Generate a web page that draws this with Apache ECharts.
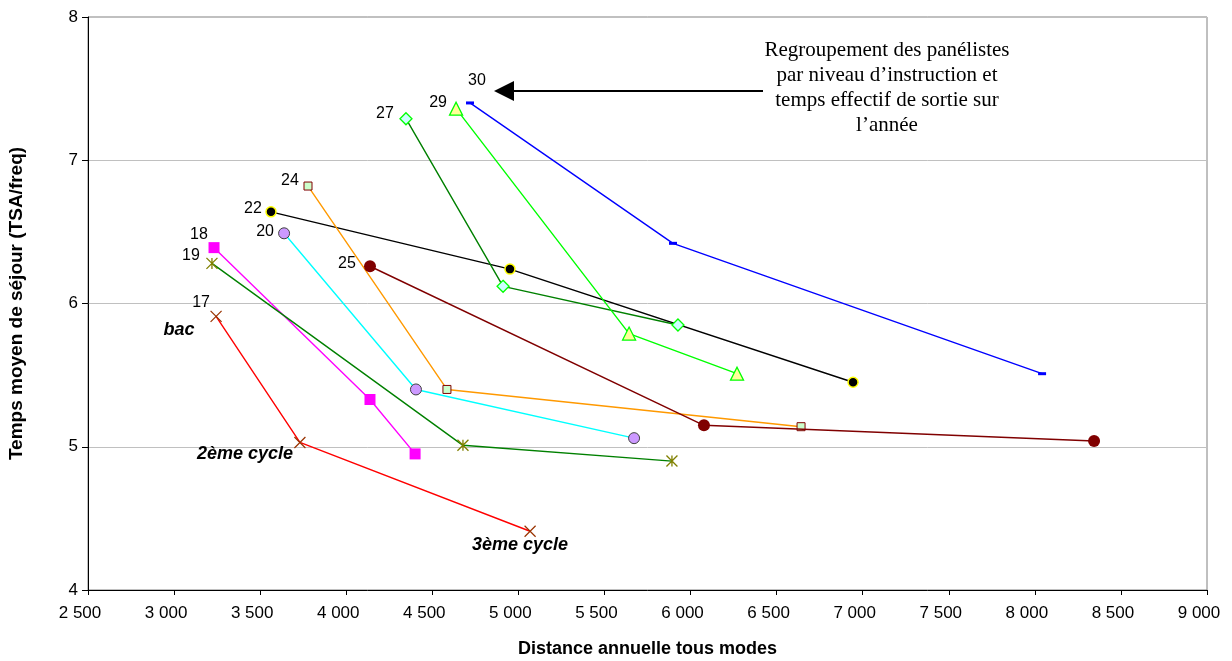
<!DOCTYPE html>
<html><head><meta charset="utf-8">
<script src="https://cdn.jsdelivr.net/npm/echarts@6/dist/echarts.min.js"></script>
<style>html,body{margin:0;padding:0;background:#fff}#c{width:1232px;height:661px}</style>
</head><body><div id="c"></div>
<script>
// Distance annuelle tous modes (x) and Temps moyen de séjour (y) per group
const dist17 = [3244, 3731, 5068], time17 = [5.91, 5.03, 4.41];
const dist18 = [3232, 4138, 4400], time18 = [6.39, 5.33, 4.95];
const dist19 = [3220, 4678, 5892], time19 = [6.28, 5.01, 4.90];
const dist20 = [3639, 4405, 5672], time20 = [6.49, 5.40, 5.06];
const dist22 = [3563, 4951, 6944], time22 = [6.64, 6.24, 5.45];
const dist24 = [3778, 4585, 6642], time24 = [6.82, 5.40, 5.14];
const dist25 = [4138, 6078, 8344], time25 = [6.26, 5.15, 5.04];
const dist27 = [4347, 4911, 5927], time27 = [7.29, 6.12, 5.85];
const dist29 = [4638, 5643, 6270], time29 = [7.36, 5.79, 5.51];
const dist30 = [4719, 5898, 8042], time30 = [7.40, 6.42, 5.51];
const groupNames = ['17','18','19','20','22','24','25','27','29','30'];
const levelLabels = ['bac', '2ème cycle', '3ème cycle'];
const xTicks = {min: 2500, max: 9000, step: 500};
const yTicks = {min: 4, max: 8, step: 1};
const noteLines = ['Regroupement des panélistes', 'par niveau d’instruction et', 'temps effectif de sortie sur', 'l’année'];

const dists = [dist17, dist18, dist19, dist20, dist22, dist24, dist25, dist27, dist29, dist30];
const times = [time17, time18, time19, time20, time22, time24, time25, time27, time29, time30];

const X = 'path://M0,0L10,10M10,0L0,10';
const STAR = 'path://M5,0L5,10M0,0L10,10M10,0L0,10';
const styles = [
  {line:'#FF0000', sym:X, size:11, fill:'#993300', border:'#993300', bw:1.2, lo:[-15,-14]},
  {line:'#FF00FF', sym:'rect', size:11, fill:'#FF00FF', border:'#FF00FF', bw:0, lo:[-15,-13]},
  {line:'#008000', sym:STAR, size:11, fill:'#808000', border:'#808000', bw:1.3, lo:[-21,-8]},
  {line:'#00FFFF', sym:'circle', size:11, fill:'#CC99FF', border:'#404040', bw:1, lo:[-19,-2]},
  {line:'#000000', sym:'circle', size:10, fill:'#000000', border:'#FFFF00', bw:1.5, lo:[-18,-3]},
  {line:'#FF9900', sym:'rect', size:8, fill:'#CCFFCC', border:'#800000', bw:1, lo:[-18,-5]},
  {line:'#800000', sym:'circle', size:12, fill:'#800000', border:'#800000', bw:0, lo:[-23,-3]},
  {line:'#008000', sym:'diamond', size:12, fill:'#CCFFFF', border:'#00FF00', bw:1.3, lo:[-21,-5]},
  {line:'#00FF00', sym:'triangle', size:13, fill:'#FFFF99', border:'#00FF00', bw:1.3, lo:[-18,-6]},
  {line:'#0000FF', sym:'rect', size:[8,3], fill:'#0000FF', border:'#0000FF', bw:0, lo:[7,-22]}
];

const series = dists.map((d, k) => {
  const s = styles[k];
  return {
    type: 'line', name: groupNames[k], symbol: s.sym, symbolSize: s.size,
    lineStyle: {color: s.line, width: 1.4},
    itemStyle: {color: s.fill, borderColor: s.border, borderWidth: s.bw},
    emphasis: {disabled: true}, animation: false, z: 2 + k,
    data: d.map((v, i) => ({
      value: [v, times[k][i]],
      label: i === 0 ? {show: true, position: 'inside', formatter: groupNames[k], offset: s.lo,
        align: 'center', verticalAlign: 'middle', color: '#000', fontSize: 16, fontFamily: 'Liberation Sans'} : {show: false}
    }))
  };
});
const levelOffsets = [[-37, 14], [-55, 12], [-10, 14]];
series.push({
  type: 'scatter', symbolSize: 0, animation: false, z: 20, silent: true,
  itemStyle: {opacity: 1},
  data: dist17.map((v, i) => ({
    value: [v, time17[i]],
    label: {show: true, position: 'inside', formatter: levelLabels[i], offset: levelOffsets[i],
      align: 'center', verticalAlign: 'middle', color: '#000', opacity: 1, fontSize: 18,
      fontWeight: 'bold', fontStyle: 'italic', fontFamily: 'Liberation Sans'}
  }))
});

const chart = echarts.init(document.getElementById('c'), null, {renderer: 'canvas'});
const fmt = v => String(v).replace(/\B(?=(\d{3})+(?!\d))/g, ' ');
chart.setOption({
  backgroundColor: '#fff',
  animation: false,
  grid: {left: 88, right: 25, top: 17, bottom: 71, show: true, borderColor: '#808080', borderWidth: 1,
    containLabel: false, outerBoundsMode: 'none'},
  xAxis: {
    type: 'value', min: xTicks.min, max: xTicks.max, interval: xTicks.step,
    name: 'Distance annuelle tous modes', nameLocation: 'middle', nameGap: 50,
    nameTextStyle: {fontFamily: 'Liberation Sans', fontWeight: 'bold', fontSize: 18, color: '#000'},
    axisLine: {lineStyle: {color: '#000', width: 1}},
    axisTick: {show: true, inside: false, length: 5, lineStyle: {color: '#000'}},
    axisLabel: {formatter: fmt, fontFamily: 'Liberation Sans', fontSize: 17, color: '#000', margin: 15, padding: [0, 16, 0, 0]},
    splitLine: {show: false}
  },
  yAxis: {
    type: 'value', min: yTicks.min, max: yTicks.max, interval: yTicks.step,
    name: 'Temps moyen de séjour (TSA/freq)', nameLocation: 'middle', nameGap: 62,
    nameTextStyle: {fontFamily: 'Liberation Sans', fontWeight: 'bold', fontSize: 19, color: '#000'},
    axisLine: {show: true, lineStyle: {color: '#000', width: 1}},
    axisTick: {show: true, inside: false, length: 6, lineStyle: {color: '#000'}},
    axisLabel: {fontFamily: 'Liberation Sans', fontSize: 17, color: '#000', margin: 10},
    splitLine: {show: true, lineStyle: {color: '#C0C0C0', width: 1}}
  },
  series: series,
  graphic: [
    {type: 'line', shape: {x1: 763, y1: 91, x2: 512, y2: 91}, style: {stroke: '#000', lineWidth: 2}, z: 50},
    {type: 'polygon', shape: {points: [[494, 91], [514, 81], [514, 101]]}, style: {fill: '#000'}, z: 50},
    {type: 'text', x: 887, y: 38, z: 50, style: {text: noteLines.join('\n'), textAlign: 'center',
      font: '21px "Liberation Serif"', lineHeight: 25, fill: '#000'}}
  ]
});
</script></body></html>
